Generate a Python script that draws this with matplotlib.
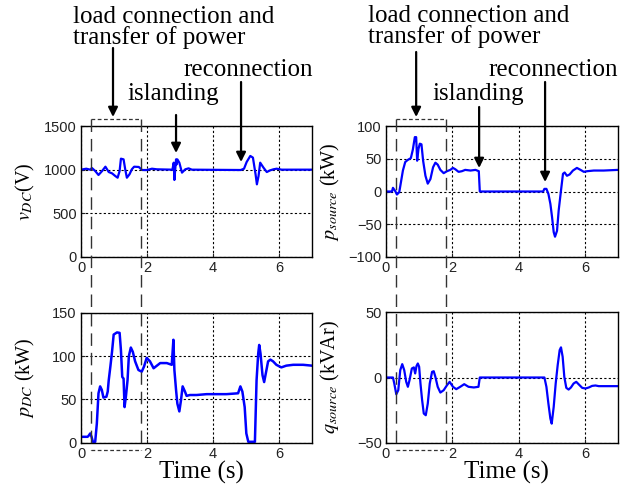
import matplotlib
matplotlib.use("Agg")
import matplotlib.pyplot as plt
from matplotlib.lines import Line2D
from matplotlib.transforms import blended_transform_factory

plt.rcParams['font.family'] = ['Liberation Serif', 'DejaVu Serif']
plt.rcParams['mathtext.fontset'] = 'stix'

# ---- data ----
t_vdc = [0, 0.16, 0.28, 0.33, 0.43, 0.53, 0.64, 0.74, 0.84, 0.94, 1.04, 1.11, 1.17, 1.21,
         1.29, 1.34, 1.39, 1.47, 1.54, 1.61, 1.75, 1.85, 2.00, 2.15, 2.30, 2.77, 2.81,
         2.83, 2.86, 2.88, 2.90, 2.92, 2.98, 3.06, 3.16, 3.26, 3.36, 4.84, 4.94, 5.02,
         5.13, 5.21, 5.25, 5.29, 5.33, 5.38, 5.43, 5.53, 5.63, 5.73, 5.83, 5.93, 6.08, 7.0]
vdc = [1000, 1011, 1000, 1019, 985, 939, 985, 1034, 973, 958, 927, 908, 985, 1126,
       1118, 1004, 908, 947, 1004, 1034, 1031, 996, 996, 1011, 1004, 1000, 1080,
       882, 1023, 1118, 1061, 1118, 1080, 966, 1004, 1015, 1000, 996, 1011, 1088,
       1157, 1138, 1042, 947, 832, 927, 1080, 1023, 973, 992, 1004, 1011, 1000, 1000]

t_ps = [0, 0.18, 0.21, 0.28, 0.33, 0.40, 0.45, 0.51, 0.58, 0.65, 0.75, 0.81, 0.87, 0.91,
        0.94, 0.98, 1.02, 1.07, 1.12, 1.19, 1.26, 1.34, 1.42, 1.49, 1.56, 1.64, 1.74,
        1.84, 1.94, 2.02, 2.09, 2.19, 2.29, 2.39, 2.55, 2.70, 2.80, 2.83, 4.74, 4.78,
        4.84, 4.90, 4.96, 5.01, 5.06, 5.10, 5.16, 5.21, 5.28, 5.34, 5.39, 5.46, 5.54,
        5.64, 5.76, 5.87, 5.97, 6.07, 6.27, 6.57, 7.0]
ps = [0, 0, 5.6, 0.5, -4.6, -1, 14, 32, 45, 48, 51, 64, 83, 83,
      47, 65, 73, 72, 47, 24, 12, 19, 37, 44, 41, 33, 28,
      31, 33, 36, 34, 30, 31, 33, 32, 33, 31, 0, 0, 4,
      4, -3.6, -19, -39, -62, -69, -60, -29, 1.5, 27, 29, 24, 26,
      32, 36, 33, 30, 31, 32, 32, 33]

t_pdc = [0, 0.20, 0.23, 0.28, 0.32, 0.36, 0.43, 0.48, 0.53, 0.58, 0.63, 0.68, 0.77, 0.81,
         0.84, 0.89, 0.94, 0.99, 1.09, 1.17, 1.21, 1.25, 1.29, 1.32, 1.36, 1.41, 1.45,
         1.51, 1.57, 1.64, 1.74, 1.84, 1.91, 1.99, 2.09, 2.20, 2.30, 2.40, 2.60, 2.75,
         2.80, 2.83, 2.88, 2.92, 2.98, 3.03, 3.08, 3.15, 3.20, 3.30, 3.50, 3.81, 4.41,
         4.76, 4.83, 4.89, 4.96, 5.01, 5.07, 5.27, 5.32, 5.37, 5.40, 5.44, 5.50, 5.55,
         5.60, 5.67, 5.74, 5.82, 5.92, 6.07, 6.22, 6.43, 6.73, 7.0]
pdc = [6.6, 6.6, 7.8, 10.5, 6.6, 0.8, 0.8, 22, 57, 65, 61, 52, 53, 59,
       72, 88, 105, 125, 127.5, 127, 107, 76, 74, 41, 53, 72, 100,
       110, 105, 94, 84, 82, 88, 98, 94, 86, 89, 92, 92, 90,
       119, 84, 61, 45, 36, 49, 65, 59, 54, 55, 55, 56, 56,
       57, 65, 59, 41, 10.5, 0.8, 0.8, 72, 103, 113, 103, 78, 70,
       80, 94, 96, 94, 90, 87, 89, 90, 90, 89]

t_qs = [0, 0.21, 0.25, 0.31, 0.37, 0.43, 0.49, 0.55, 0.61, 0.66, 0.71, 0.78, 0.84, 0.88,
        0.92, 0.96, 1.00, 1.04, 1.09, 1.14, 1.20, 1.26, 1.32, 1.39, 1.44, 1.49, 1.56,
        1.64, 1.74, 1.84, 1.92, 2.02, 2.12, 2.24, 2.36, 2.49, 2.65, 2.79, 2.83, 4.78,
        4.84, 4.90, 4.96, 5.00, 5.06, 5.12, 5.18, 5.24, 5.28, 5.33, 5.38, 5.44, 5.51,
        5.58, 5.66, 5.74, 5.81, 5.92, 6.02, 6.12, 6.22, 6.32, 6.42, 7.0]
qs = [0, 0, -4.6, -12.8, -9.7, 5.6, 10.2, 5.6, -3.3, -7.1, -2, 6.9, 7.7, 3.1,
      8.7, 10.7, 8.2, -4.6, -17.3, -27.5, -28.8, -19.9, -4.6, 4.3, 4.8, 0.5, -7.1,
      -11.5, -9.7, -5.9, -3.3, -7.1, -8.9, -7.1, -5.1, -7.1, -7.6, -7.1, 0, 0,
      -7.1, -19.9, -31.4, -35.2, -22.4, -4.6, 9.4, 20.9, 23, 15.8, 0.5, -7.9, -9.2,
      -7.6, -4.6, -3.3, -5.1, -7.9, -8.4, -7.6, -6.4, -6.1, -6.6, -6.6]

W, H = 635, 492
fig = plt.figure(figsize=(W / 100, H / 100), dpi=100)


def fy(px):
    return 1 - px / H


def make_ax(x0, x1, y0, y1):
    return fig.add_axes([x0 / W, fy(y1), (x1 - x0) / W, (y1 - y0) / H])


ax1 = make_ax(81, 312, 126, 257)
ax2 = make_ax(386, 618, 126, 257)
ax3 = make_ax(81, 312, 313, 442.5)
ax4 = make_ax(386, 618, 312, 443)

ax1.plot(t_vdc, vdc, color='#0000ff', lw=1.6)
ax2.plot(t_ps, ps, color='#0000ff', lw=1.6)
ax3.plot(t_pdc, pdc, color='#0000ff', lw=1.8)
ax4.plot(t_qs, qs, color='#0000ff', lw=1.6)

ax1.set_ylim(0, 1500)
ax1.set_yticks([0, 500, 1000, 1500])
ax2.set_ylim(-100, 100)
ax2.set_yticks([-100, -50, 0, 50, 100])
ax3.set_ylim(0, 150)
ax3.set_yticks([0, 50, 100, 150])
ax4.set_ylim(-50, 50)
ax4.set_yticks([-50, 0, 50])

ax1.set_ylabel(r'$v_{DC}$(V)', fontsize=14.5)
ax2.set_ylabel(r'$p_{source}$ (kW)', fontsize=14.5)
ax3.set_ylabel(r'$p_{DC}$ (kW)', fontsize=14.5)
ax4.set_ylabel(r'$q_{source}$ (kVAr)', fontsize=14.5)
ax3.set_xlabel('Time (s)', fontsize=18)
ax4.set_xlabel('Time (s)', fontsize=18)

for ax in [ax1, ax2, ax3, ax4]:
    ax.set_xlim(0, 7)
    ax.set_xticks([0, 2, 4, 6])
    ax.grid(True, color='k', linestyle=(0, (2, 2)), lw=0.8)
    ax.tick_params(direction='in', length=3, pad=3, labelsize=10.5, colors='#222222')
    for lab in ax.get_xticklabels() + ax.get_yticklabels():
        lab.set_family('Liberation Sans')
    for s in ax.spines.values():
        s.set_linewidth(1.0)
    ax.yaxis.set_label_coords(-0.19, 0.5)
    ax.xaxis.set_label_coords(0.52, -0.14)

# dashed box marking the load connection period, spanning both rows
for ax in [ax1, ax2]:
    tr = blended_transform_factory(ax.transData, fig.transFigure)
    for x in [0.3, 1.82]:
        fig.add_artist(Line2D([x, x], [fy(119), fy(450)], transform=tr, color='#333333',
                              lw=1.0, linestyle=(0, (9, 5))))
    for y in [119, 450]:
        fig.add_artist(Line2D([0.3, 1.82], [fy(y), fy(y)], transform=tr, color='#333333',
                              lw=0.9, linestyle=(0, (3, 2))))

# event arrows: (x in data, tail px, tip px)
arrows = [(ax1, 0.97, 48, 117), (ax1, 2.88, 115, 153), (ax1, 4.85, 82, 162),
          (ax2, 0.91, 52, 117), (ax2, 2.81, 107, 168), (ax2, 4.80, 82, 182)]
for ax, x, y0, y1 in arrows:
    tr = blended_transform_factory(ax.transData, fig.transFigure)
    fig.add_artist(matplotlib.patches.FancyArrowPatch((x, fy(y0)), (x, fy(y1)), transform=tr,
                                                      arrowstyle='-|>', mutation_scale=14,
                                                      color='k', lw=1.6, shrinkA=0, shrinkB=0))

# event labels
labels = [(72.7, 23, 'load connection and'), (72.7, 44, 'transfer of power'),
          (183, 76, 'reconnection'), (127, 100, 'islanding'),
          (368, 22, 'load connection and'), (368, 43, 'transfer of power'),
          (488, 76, 'reconnection'), (432, 100, 'islanding')]
for x, y, s in labels:
    fig.text(x / W, fy(y), s, fontsize=18, ha='left', va='baseline')

fig.savefig('out.png', dpi=100)
